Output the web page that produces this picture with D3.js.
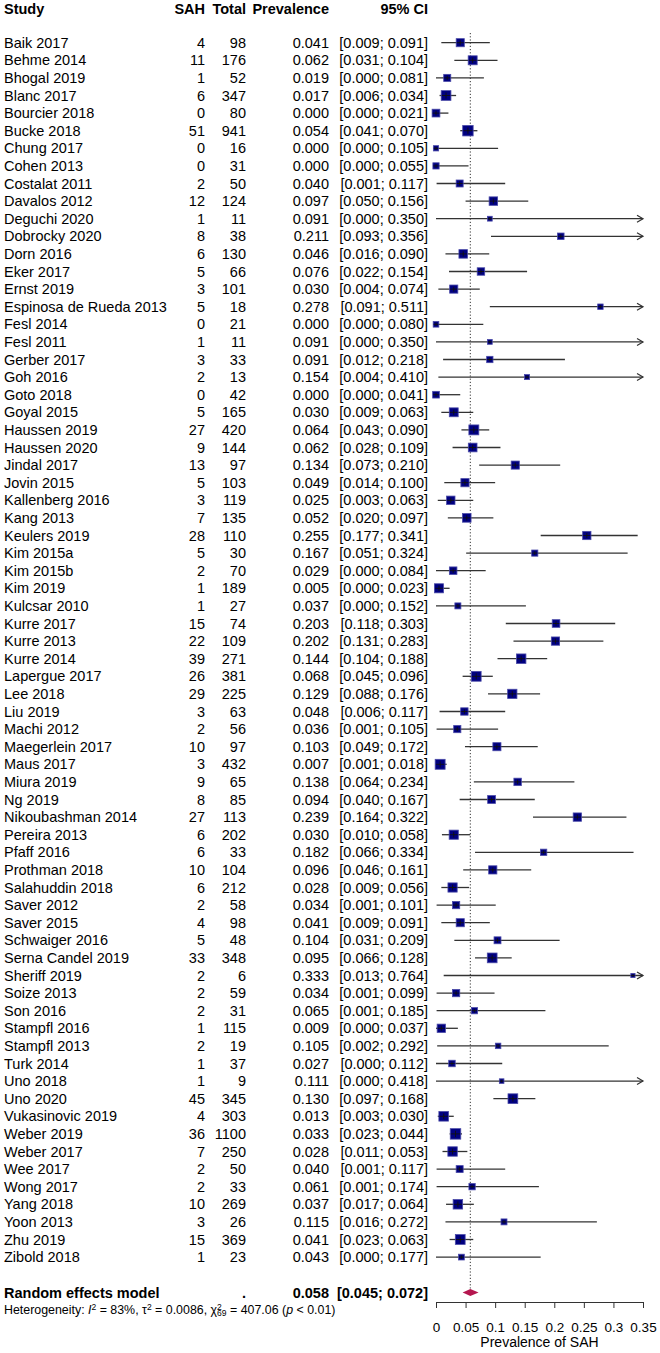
<!DOCTYPE html>
<meta charset="utf-8">
<script src="https://d3js.org/d3.v7.min.js"></script>
<style>
    body { margin: 0; background: #fff; }
    svg text { font-family: "Liberation Sans", Arial, Helvetica, sans-serif; fill: #000; }
</style>

<body>
    <div id="forest"></div>
</body>
<script>

    // study rows, top to bottom
    var studies = ["Baik 2017", "Behme 2014", "Bhogal 2019", "Blanc 2017", "Bourcier 2018", "Bucke 2018",
        "Chung 2017", "Cohen 2013", "Costalat 2011", "Davalos 2012", "Deguchi 2020", "Dobrocky 2020",
        "Dorn 2016", "Eker 2017", "Ernst 2019", "Espinosa de Rueda 2013", "Fesl 2014", "Fesl 2011",
        "Gerber 2017", "Goh 2016", "Goto 2018", "Goyal 2015", "Haussen 2019", "Haussen 2020",
        "Jindal 2017", "Jovin 2015", "Kallenberg 2016", "Kang 2013", "Keulers 2019", "Kim 2015a",
        "Kim 2015b", "Kim 2019", "Kulcsar 2010", "Kurre 2017", "Kurre 2013", "Kurre 2014",
        "Lapergue 2017", "Lee 2018", "Liu 2019", "Machi 2012", "Maegerlein 2017", "Maus 2017",
        "Miura 2019", "Ng 2019", "Nikoubashman 2014", "Pereira 2013", "Pfaff 2016", "Prothman 2018",
        "Salahuddin 2018", "Saver 2012", "Saver 2015", "Schwaiger 2016", "Serna Candel 2019", "Sheriff 2019",
        "Soize 2013", "Son 2016", "Stampfl 2016", "Stampfl 2013", "Turk 2014", "Uno 2018",
        "Uno 2020", "Vukasinovic 2019", "Weber 2019", "Weber 2017", "Wee 2017", "Wong 2017",
        "Yang 2018", "Yoon 2013", "Zhu 2019", "Zibold 2018"];

    var sah = [4, 11, 1, 6, 0, 51, 0, 0, 2, 12, 1, 8, 6, 5, 3, 5, 0, 1, 3, 2, 0, 5, 27, 9, 13, 5, 3, 7, 28, 5,
        2, 1, 1, 15, 22, 39, 26, 29, 3, 2, 10, 3, 9, 8, 27, 6, 6, 10, 6, 2, 4, 5, 33, 2, 2, 2, 1, 2, 1, 1,
        45, 4, 36, 7, 2, 2, 10, 3, 15, 1];

    var total = [98, 176, 52, 347, 80, 941, 16, 31, 50, 124, 11, 38, 130, 66, 101, 18, 21, 11, 33, 13, 42, 165,
        420, 144, 97, 103, 119, 135, 110, 30, 70, 189, 27, 74, 109, 271, 381, 225, 63, 56, 97, 432, 65, 85,
        113, 202, 33, 104, 212, 58, 98, 48, 348, 6, 59, 31, 115, 19, 37, 9, 345, 303, 1100, 250, 50, 33,
        269, 26, 369, 23];

    var prev = [0.041, 0.062, 0.019, 0.017, 0.000, 0.054, 0.000, 0.000, 0.040, 0.097, 0.091, 0.211, 0.046,
        0.076, 0.030, 0.278, 0.000, 0.091, 0.091, 0.154, 0.000, 0.030, 0.064, 0.062, 0.134, 0.049, 0.025,
        0.052, 0.255, 0.167, 0.029, 0.005, 0.037, 0.203, 0.202, 0.144, 0.068, 0.129, 0.048, 0.036, 0.103,
        0.007, 0.138, 0.094, 0.239, 0.030, 0.182, 0.096, 0.028, 0.034, 0.041, 0.104, 0.095, 0.333, 0.034,
        0.065, 0.009, 0.105, 0.027, 0.111, 0.130, 0.013, 0.033, 0.028, 0.040, 0.061, 0.037, 0.115, 0.041,
        0.043];

    var lower = [0.009, 0.031, 0.000, 0.006, 0.000, 0.041, 0.000, 0.000, 0.001, 0.050, 0.000, 0.093, 0.016,
        0.022, 0.004, 0.091, 0.000, 0.000, 0.012, 0.004, 0.000, 0.009, 0.043, 0.028, 0.073, 0.014, 0.003,
        0.020, 0.177, 0.051, 0.000, 0.000, 0.000, 0.118, 0.131, 0.104, 0.045, 0.088, 0.006, 0.001, 0.049,
        0.001, 0.064, 0.040, 0.164, 0.010, 0.066, 0.046, 0.009, 0.001, 0.009, 0.031, 0.066, 0.013, 0.001,
        0.001, 0.000, 0.002, 0.000, 0.000, 0.097, 0.003, 0.023, 0.011, 0.001, 0.001, 0.017, 0.016, 0.023,
        0.000];

    var upper = [0.091, 0.104, 0.081, 0.034, 0.021, 0.070, 0.105, 0.055, 0.117, 0.156, 0.350, 0.356, 0.090,
        0.154, 0.074, 0.511, 0.080, 0.350, 0.218, 0.410, 0.041, 0.063, 0.090, 0.109, 0.210, 0.100, 0.063,
        0.097, 0.341, 0.324, 0.084, 0.023, 0.152, 0.303, 0.283, 0.188, 0.096, 0.176, 0.117, 0.105, 0.172,
        0.018, 0.234, 0.167, 0.322, 0.058, 0.334, 0.161, 0.056, 0.101, 0.091, 0.209, 0.128, 0.764, 0.099,
        0.185, 0.037, 0.292, 0.112, 0.418, 0.168, 0.030, 0.044, 0.053, 0.117, 0.174, 0.064, 0.272, 0.063,
        0.177];

    // pooled estimate (random effects) and between-study variance
    var pooled = [0.058, 0.045, 0.072];
    var tau2 = 0.0086;

    var tickValues = [0, 0.05, 0.1, 0.15, 0.2, 0.25, 0.3, 0.35];
    var tickLabels = ["0", "0.05", "0.1", "0.15", "0.2", "0.25", "0.3", "0.35"];

    var width = 660,
        height = 1353;

    var svg = d3.select("#forest")
        .append("svg")
        .attr("width", width)
        .attr("height", height)

    var fmt = d3.format(".3f");

    var x = d3.scaleLinear().domain([0, 0.35]).range([436, 643])
    var y = d3.scalePoint().domain(d3.range(studies.length)).range([42.7, 1257.1])
    var yPooled = 1292.5;

    // random effects weights -> square size
    var weights = total.map(function (n) { return 1 / (1 / (n + 0.5) + tau2) });
    var boxSize = d3.scaleLinear()
        .domain([Math.sqrt(d3.min(weights)), Math.sqrt(d3.max(weights))])
        .range([4.2, 10.5])

    var FS = 14.5;

    // column headers
    var head = svg.append("g").style("font-weight", "bold").style("font-size", FS + "px")
    head.append("text").attr("x", 4).attr("y", 13.8).text("Study")
    head.append("text").attr("x", 205).attr("y", 13.8).attr("text-anchor", "end").text("SAH")
    head.append("text").attr("x", 246).attr("y", 13.8).attr("text-anchor", "end").text("Total")
    head.append("text").attr("x", 329).attr("y", 13.8).attr("text-anchor", "end").text("Prevalence")
    head.append("text").attr("x", 428).attr("y", 13.8).attr("text-anchor", "end").text("95% CI")

    // table columns
    var rows = svg.append("g").style("font-size", FS + "px")
        .selectAll("g")
        .data(d3.range(studies.length))
        .enter()
        .append("g")
        .attr("transform", function (i) { return "translate(0," + (y(i) + 5) + ")" })

    rows.append("text").attr("x", 4).text(function (i) { return studies[i] })
    rows.append("text").attr("x", 205).attr("text-anchor", "end").text(function (i) { return sah[i] })
    rows.append("text").attr("x", 246).attr("text-anchor", "end").text(function (i) { return total[i] })
    rows.append("text").attr("x", 329).attr("text-anchor", "end").text(function (i) { return fmt(prev[i]) })
    rows.append("text").attr("x", 428).attr("text-anchor", "end").text(function (i) { return "[" + fmt(lower[i]) + "; " + fmt(upper[i]) + "]" })

    // reference line at pooled estimate
    svg.append("line")
        .attr("x1", x(pooled[0])).attr("x2", x(pooled[0]))
        .attr("y1", 33).attr("y2", yPooled - 4)
        .attr("stroke", "#333")
        .attr("stroke-width", 1)
        .attr("stroke-dasharray", "1.2,2")

    // confidence intervals
    var plot = svg.append("g")
    var xMax = x.domain()[1];

    plot.selectAll(".ci")
        .data(d3.range(studies.length))
        .enter()
        .append("line")
        .attr("class", "ci")
        .attr("x1", function (i) { return x(lower[i]) })
        .attr("x2", function (i) { return x(Math.min(upper[i], xMax)) })
        .attr("y1", function (i) { return y(i) })
        .attr("y2", function (i) { return y(i) })
        .attr("stroke", "#333")
        .attr("stroke-width", 1.3)

    // arrows where the interval reaches the end of the axis
    plot.selectAll(".arrow")
        .data(d3.range(studies.length).filter(function (i) { return upper[i] >= xMax }))
        .enter()
        .append("path")
        .attr("class", "arrow")
        .attr("d", function (i) {
            var ex = x(xMax), yy = y(i);
            return "M" + (ex - 6) + "," + (yy - 3.5) + "L" + ex + "," + yy + "L" + (ex - 6) + "," + (yy + 3.5)
        })
        .attr("fill", "none")
        .attr("stroke", "#333")
        .attr("stroke-width", 1.2)

    // squares
    plot.selectAll(".box")
        .data(d3.range(studies.length))
        .enter()
        .append("rect")
        .attr("class", "box")
        .attr("x", function (i) { return x(prev[i]) - boxSize(Math.sqrt(weights[i])) / 2 })
        .attr("y", function (i) { return y(i) - boxSize(Math.sqrt(weights[i])) / 2 })
        .attr("width", function (i) { return boxSize(Math.sqrt(weights[i])) })
        .attr("height", function (i) { return boxSize(Math.sqrt(weights[i])) })
        .attr("fill", "#000080")
        .attr("stroke", "#4a4aa8")
        .attr("stroke-width", 0.8)

    // small cross marking the point estimate
    plot.selectAll(".mark")
        .data(d3.range(studies.length))
        .enter()
        .append("path")
        .attr("class", "mark")
        .attr("d", function (i) {
            var cx = x(prev[i]), cy = y(i), h = boxSize(Math.sqrt(weights[i])) * 0.3;
            return "M" + (cx - h * 1.4) + "," + cy + "H" + (cx + h * 1.4) + "M" + cx + "," + (cy - h) + "V" + (cy + h)
        })
        .attr("stroke", "#111")
        .attr("stroke-width", 0.9)

    // pooled diamond
    svg.append("path")
        .attr("d", "M" + x(pooled[1]) + "," + yPooled +
            "L" + x(pooled[0]) + "," + (yPooled - 3.6) +
            "L" + x(pooled[2]) + "," + yPooled +
            "L" + x(pooled[0]) + "," + (yPooled + 3.6) + "Z")
        .attr("fill", "#b5174f")

    // pooled row text
    var pr = svg.append("g").style("font-weight", "bold").style("font-size", FS + "px")
        .attr("transform", "translate(0," + (yPooled + 5) + ")")
    pr.append("text").attr("x", 4).text("Random effects model")
    pr.append("text").attr("x", 246).attr("text-anchor", "end").text(".")
    pr.append("text").attr("x", 329).attr("text-anchor", "end").text(fmt(pooled[0]))
    pr.append("text").attr("x", 428).attr("text-anchor", "end").text("[" + fmt(pooled[1]) + "; " + fmt(pooled[2]) + "]")

    // heterogeneity line
    var het = svg.append("text").attr("x", 4).attr("y", 1314).style("font-size", "12.4px")
    het.append("tspan").text("Heterogeneity: ")
    het.append("tspan").style("font-style", "italic").text("I")
    het.append("tspan").attr("baseline-shift", "40%").style("font-size", "8.5px").text("2")
    het.append("tspan").text(" = 83%, \u03c4")
    het.append("tspan").attr("baseline-shift", "40%").style("font-size", "8.5px").text("2")
    het.append("tspan").text(" = 0.0086, \u03c7")
    het.append("tspan").attr("baseline-shift", "40%").style("font-size", "8.5px").text("2")
    het.append("tspan").attr("dx", -4.7).attr("baseline-shift", "-25%").style("font-size", "8.5px").text("69")
    het.append("tspan").text(" = 407.06 (")
    het.append("tspan").style("font-style", "italic").text("p")
    het.append("tspan").text(" < 0.01)")

    // x axis
    var axis = svg.append("g")
        .attr("transform", "translate(0,1302)")
        .call(d3.axisBottom(x)
            .tickValues(tickValues)
            .tickFormat(function (d, i) { return tickLabels[i] })
            .tickSize(6)
            .tickSizeOuter(0)
            .tickPadding(14))
    axis.selectAll("path, line").attr("stroke", "#333")
    axis.selectAll("text").style("font-size", "13.5px")
    axis.attr("font-family", null).attr("font-size", null)

    svg.append("text")
        .attr("x", x(0.175))
        .attr("y", 1347)
        .attr("text-anchor", "middle")
        .style("font-size", "14px")
        .text("Prevalence of SAH")

</script>
